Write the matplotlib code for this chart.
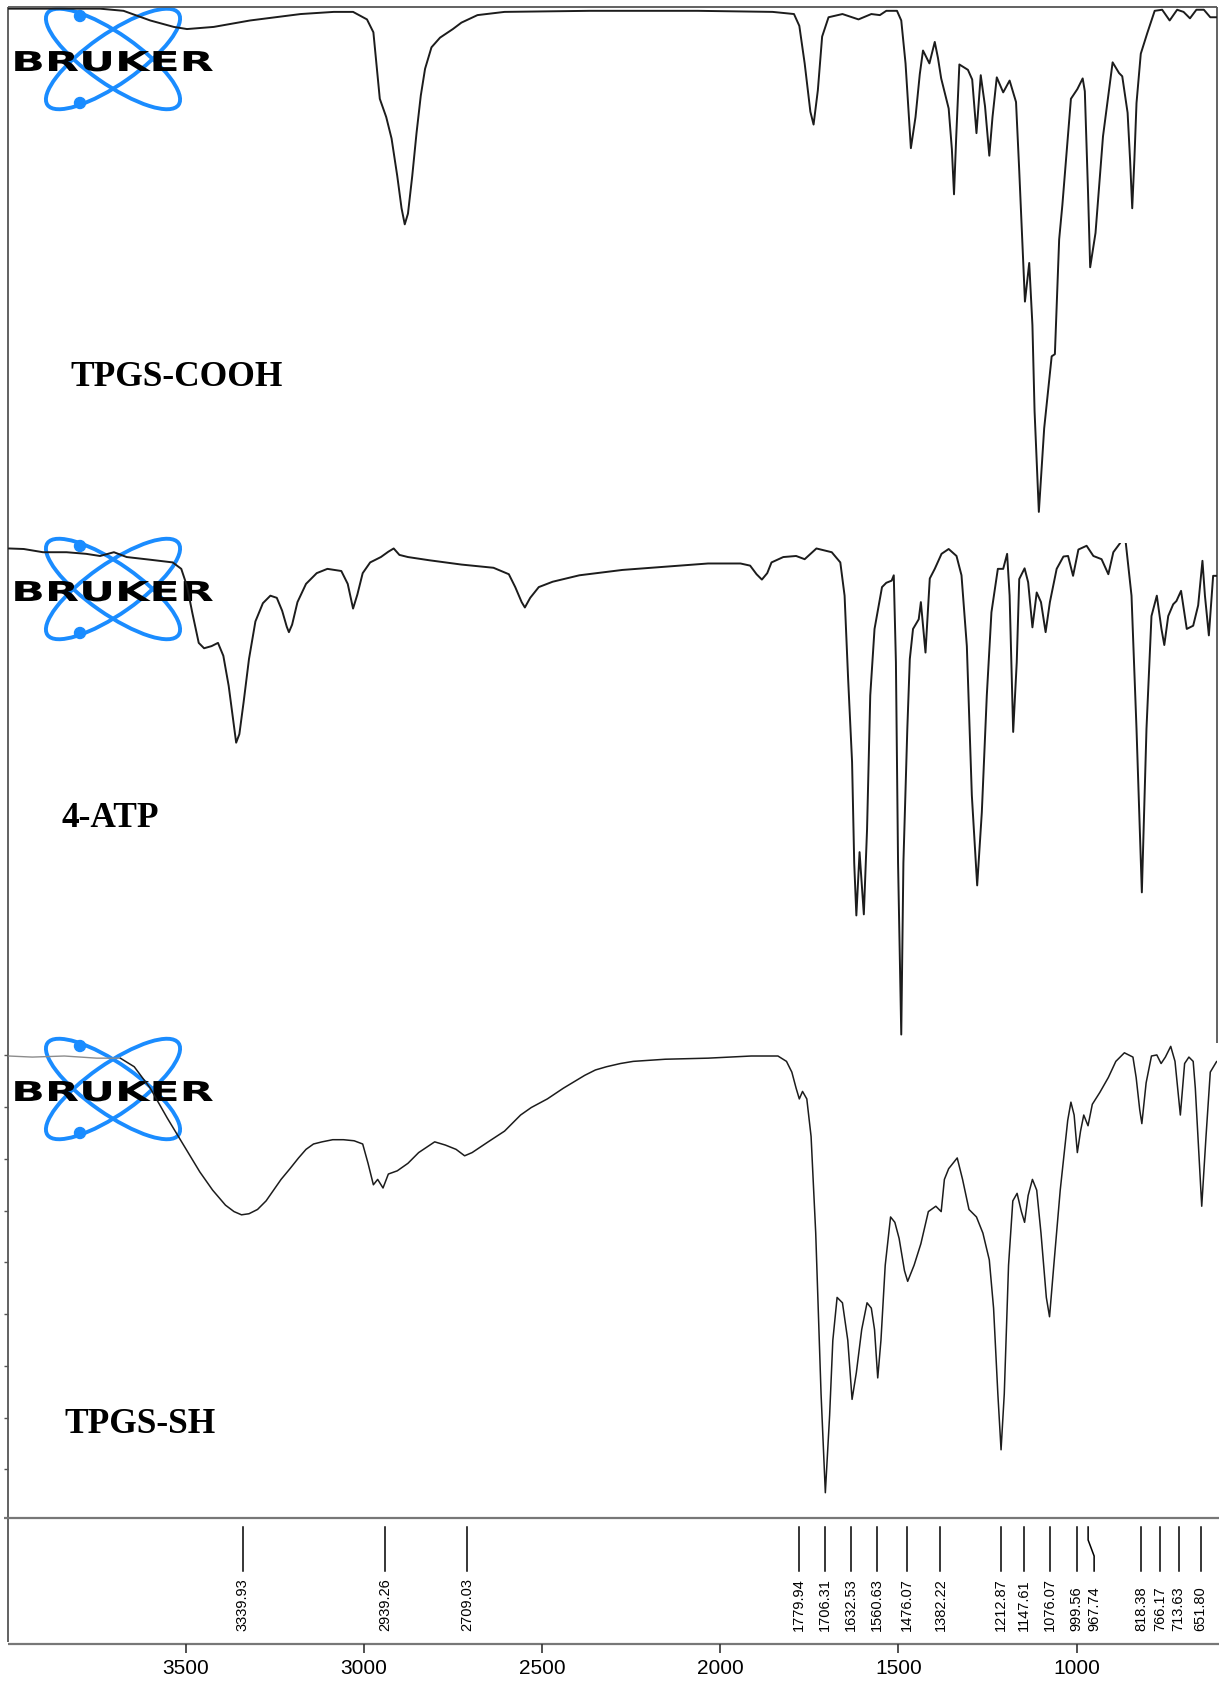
import numpy as np
import matplotlib
matplotlib.use("Agg")
import matplotlib.pyplot as plt
from matplotlib.patches import Ellipse, Circle
from matplotlib.patheffects import AbstractPathEffect
from matplotlib.transforms import Affine2D

# ---------------- data ----------------
sample_names = ["TPGS-COOH", "4-ATP", "TPGS-SH"]

cooh_wn = [3996, 3840, 3740, 3674, 3599, 3533, 3496, 3421, 3319, 3177, 3084, 3030, 2991, 2973,
           2955, 2937, 2922, 2906, 2894, 2885, 2876, 2864, 2852, 2840, 2828, 2810, 2786, 2768,
           2750, 2726, 2681, 2605, 2365, 2064, 1853, 1793, 1778, 1763, 1747, 1738, 1726, 1714,
           1696, 1657, 1612, 1576, 1552, 1534, 1504, 1492, 1480, 1465, 1452, 1440, 1431, 1413,
           1398, 1389, 1380, 1359, 1350, 1344, 1338, 1329, 1305, 1293, 1281, 1269, 1257, 1245,
           1236, 1224, 1206, 1188, 1170, 1161, 1145, 1133, 1124, 1118, 1106, 1091, 1070, 1061,
           1049, 1040, 1016, 998, 983, 977, 968, 962, 947, 926, 899, 881, 872, 857, 850, 844,
           838, 832, 820, 802, 781, 760, 739, 718, 700, 682, 664, 643, 625, 607]
cooh_t = [99.8, 99.8, 99.8, 99.4, 97.6, 96.4, 96.0, 96.4, 97.6, 98.8, 99.2, 99.2, 97.8, 95.4,
          83.0, 79.6, 75.6, 68.6, 62.6, 59.6, 61.6, 68.6, 76.6, 83.6, 88.6, 92.6, 94.4, 95.2,
          96.0, 97.2, 98.6, 99.2, 99.4, 99.4, 99.2, 98.8, 96.6, 89.6, 80.6, 78.2, 84.6, 94.6,
          98.2, 98.8, 97.8, 98.8, 98.6, 99.4, 99.4, 97.6, 89.6, 73.8, 79.6, 87.6, 92.0, 89.6,
          93.6, 90.6, 86.8, 81.2, 73.6, 65.2, 75.6, 89.4, 88.4, 86.6, 76.6, 87.4, 81.6, 72.4,
          79.6, 87.0, 84.2, 86.4, 82.4, 69.6, 45.2, 52.4, 40.8, 24.8, 6.0, 21.6, 35.0, 35.4,
          56.8, 63.2, 83.0, 84.8, 86.8, 84.4, 65.6, 51.6, 58.0, 76.0, 89.8, 87.8, 87.2, 80.4,
          71.6, 62.6, 71.6, 82.2, 91.4, 95.2, 99.4, 99.6, 97.6, 99.6, 99.2, 98.0, 99.6, 99.6,
          98.2, 98.2]

atp_wn = [3996, 3954, 3900, 3834, 3779, 3740, 3701, 3665, 3599, 3536, 3512, 3496, 3481, 3463,
          3448, 3427, 3409, 3394, 3379, 3367, 3358, 3349, 3337, 3322, 3304, 3283, 3262, 3244,
          3229, 3216, 3210, 3201, 3186, 3162, 3132, 3102, 3063, 3045, 3030, 3018, 3003, 2982,
          2952, 2931, 2916, 2900, 2876, 2816, 2726, 2636, 2593, 2575, 2557, 2548, 2533, 2509,
          2470, 2395, 2274, 2154, 2034, 1943, 1916, 1898, 1883, 1868, 1856, 1823, 1787, 1763,
          1730, 1687, 1663, 1651, 1641, 1630, 1624, 1618, 1609, 1597, 1588, 1579, 1567, 1546,
          1534, 1519, 1513, 1507, 1501, 1492, 1486, 1475, 1468, 1459, 1443, 1437, 1424, 1412,
          1398, 1379, 1359, 1337, 1323, 1308, 1294, 1279, 1266, 1252, 1239, 1221, 1206, 1195,
          1188, 1178, 1168, 1161, 1146, 1136, 1124, 1112, 1100, 1087, 1075, 1056, 1037, 1024,
          1010, 995, 972, 953, 930, 911, 897, 878, 870, 862, 846, 832, 817, 804, 790, 775, 762,
          754, 743, 729, 720, 707, 691, 673, 659, 647, 640, 629, 617, 605]
atp_t = [97.6, 97.5, 96.9, 96.9, 96.6, 96.2, 96.9, 96.0, 95.5, 95.0, 93.8, 90.6, 85.6, 80.0,
         79.0, 79.4, 80.0, 77.6, 72.0, 66.0, 61.4, 63.0, 69.0, 77.0, 84.0, 87.4, 88.8, 88.4,
         86.0, 83.0, 82.0, 83.4, 87.6, 91.0, 93.0, 93.8, 93.4, 91.0, 86.4, 89.0, 93.0, 95.0,
         96.0, 97.0, 97.6, 96.4, 96.0, 95.4, 94.6, 94.0, 92.8, 90.4, 87.6, 86.6, 88.4, 90.4,
         91.4, 92.6, 93.6, 94.2, 94.8, 94.8, 94.4, 92.8, 91.8, 93.0, 95.0, 96.0, 96.2, 95.6,
         97.6, 96.9, 95.0, 88.8, 73.2, 57.8, 39.0, 29.2, 41.0, 29.4, 45.2, 70.2, 82.6, 90.4,
         91.2, 91.6, 92.6, 76.4, 39.0, 7.0, 39.0, 64.0, 77.0, 82.6, 84.4, 87.6, 78.2, 92.0,
         93.8, 96.6, 97.5, 96.2, 92.6, 79.4, 51.6, 34.8, 48.4, 70.2, 85.7, 93.8, 93.8, 96.6,
         88.8, 63.4, 76.4, 91.9, 93.9, 91.3, 82.9, 89.4, 87.6, 82.0, 87.6, 93.8, 96.1, 96.2,
         92.5, 97.4, 98.1, 96.2, 95.6, 92.8, 96.9, 98.6, 100.0, 98.6, 88.8, 64.0, 33.5, 64.0,
         85.0, 88.8, 82.6, 79.6, 85.0, 87.2, 87.8, 89.7, 82.6, 83.2, 87.0, 95.3, 88.8, 81.4,
         92.5, 92.5]

sh_wn = [3996, 3930, 3840, 3749, 3683, 3644, 3599, 3551, 3502, 3460, 3424, 3388, 3364, 3343,
         3322, 3298, 3274, 3253, 3232, 3207, 3183, 3162, 3141, 3117, 3087, 3057, 3027, 3003,
         2988, 2973, 2961, 2946, 2931, 2906, 2876, 2846, 2801, 2771, 2741, 2717, 2696, 2651,
         2605, 2560, 2530, 2485, 2440, 2380, 2350, 2319, 2280, 2244, 2154, 2034, 1913, 1838,
         1814, 1799, 1787, 1778, 1769, 1757, 1745, 1732, 1717, 1705, 1693, 1684, 1672, 1657,
         1642, 1630, 1618, 1603, 1588, 1576, 1567, 1558, 1549, 1537, 1522, 1510, 1498, 1483,
         1474, 1456, 1437, 1416, 1395, 1380, 1371, 1359, 1347, 1335, 1320, 1302, 1281, 1263,
         1245, 1233, 1221, 1212, 1203, 1191, 1179, 1167, 1155, 1146, 1136, 1124, 1112, 1100,
         1085, 1076, 1064, 1046, 1025, 1016, 1007, 998, 989, 980, 968, 956, 935, 911, 890, 866,
         842, 833, 823, 817, 805, 790, 775, 763, 751, 736, 724, 715, 709, 697, 685, 673, 667,
         658, 649, 637, 625, 607]
sh_t = [86.0, 85.8, 86.0, 85.6, 85.6, 84.0, 80.0, 74.4, 69.0, 64.4, 61.0, 58.2, 57.0, 56.4,
        56.6, 57.4, 59.0, 61.0, 63.0, 65.0, 67.0, 68.6, 69.6, 70.0, 70.4, 70.4, 70.2, 69.6,
        66.0, 62.0, 63.0, 61.4, 64.0, 64.6, 66.0, 68.0, 70.0, 69.4, 68.6, 67.4, 68.0, 70.0,
        72.0, 75.0, 76.4, 78.0, 80.0, 82.4, 83.4, 84.0, 84.6, 85.0, 85.4, 85.6, 86.0, 86.0,
        85.0, 83.0, 80.0, 78.0, 79.4, 78.0, 71.0, 53.0, 23.0, 4.6, 19.0, 33.0, 41.0, 40.0,
        33.0, 22.0, 27.0, 35.0, 40.0, 39.0, 35.0, 26.0, 33.0, 47.0, 56.0, 55.0, 52.0, 46.0,
        44.0, 47.0, 51.0, 57.0, 58.0, 57.0, 63.0, 65.0, 66.0, 67.0, 63.0, 57.4, 56.0, 53.0,
        48.0, 39.0, 23.0, 12.6, 23.0, 47.0, 59.0, 60.4, 57.0, 55.0, 60.0, 63.0, 61.0, 53.0,
        41.0, 37.4, 47.0, 61.0, 74.0, 77.4, 75.0, 68.0, 72.0, 75.0, 73.0, 77.0, 79.2, 82.0,
        85.0, 86.6, 85.8, 82.0, 76.0, 73.4, 81.0, 86.0, 86.2, 84.6, 85.8, 87.8, 85.0, 79.0,
        75.0, 84.6, 85.8, 85.0, 80.0, 69.0, 58.0, 71.0, 83.0, 85.0]

peak_wn = [3339.93, 2939.26, 2709.03, 1779.94, 1706.31, 1632.53, 1560.63, 1476.07, 1382.22,
           1212.87, 1147.61, 1076.07, 999.56, 967.74, 818.38, 766.17, 713.63, 651.80]
peak_labels = ["3339.93", "2939.26", "2709.03", "1779.94", "1706.31", "1632.53", "1560.63",
               "1476.07", "1382.22", "1212.87", "1147.61", "1076.07", "999.56", "967.74",
               "818.38", "766.17", "713.63", "651.80"]
x_ticks = [3500, 3000, 2500, 2000, 1500, 1000]
x_tick_labels = ["3500", "3000", "2500", "2000", "1500", "1000"]
sh_yticks = [9.0, 18.6, 28.3, 37.9, 47.6, 57.2, 66.8, 76.5, 86.1]

# ---------------- layout / style ----------------
W, H, DPI = 1219, 1683, 100
XLIM = (3997, 607)
L, R = 8.4, 1216.7
LINE = "#1c1c1c"
FRAME = "#555555"
BLUE = "#1a8cff"
label_nudge_px = {"967.74": 6.0}
PX_PER_WN = (R - L) / (XLIM[0] - XLIM[1])
LSTYLE = dict(solid_joinstyle="round", solid_capstyle="round")

fig = plt.figure(figsize=(W / DPI, H / DPI), dpi=DPI)
fig.patch.set_facecolor("white")


class HStretch(AbstractPathEffect):
    """Stretch glyphs horizontally about a display x position."""
    def __init__(self, sx, cx):
        super().__init__()
        self.sx = sx
        self.cx = cx

    def draw_path(self, renderer, gc, tpath, affine, rgbFace=None):
        t = affine + Affine2D().translate(-self.cx, 0).scale(self.sx, 1.0).translate(self.cx, 0)
        renderer.draw_path(gc, tpath, t, rgbFace)


def px_axes(top, bottom, z=2):
    ax = fig.add_axes([L / W, 1 - bottom / H, (R - L) / W, (bottom - top) / H])
    ax.set_facecolor("none")
    ax.set_zorder(z)
    return ax


# overlay in pixel coordinates for frame, logos and names
ov = fig.add_axes([0, 0, 1, 1])
ov.set_xlim(0, W)
ov.set_ylim(H, 0)
ov.axis("off")
ov.set_zorder(1)

# frame lines
ov.plot([L, R], [8.4, 8.4], color=FRAME, lw=1.3, solid_capstyle="butt")
ov.plot([L, L], [8.4, 1643], color=FRAME, lw=1.3, solid_capstyle="butt")
ov.plot([R, R], [8.4, 1044], color=FRAME, lw=1.3, solid_capstyle="butt")
ov.plot([4, W], [1519, 1519], color="#777777", lw=1.6, solid_capstyle="butt")
ov.plot([L, W], [1645, 1645], color="#777777", lw=1.6, solid_capstyle="butt")

# Bruker logos
for cy in [60, 590, 1090]:
    cx = 113
    for ang in (35, -35):
        ov.add_patch(Ellipse((cx, cy), 160, 50, angle=ang, fill=False, ec=BLUE, lw=2.8))
    ov.add_patch(Circle((cx - 33, cy - 43), 5.5, color=BLUE))
    ov.add_patch(Circle((cx - 33, cy + 44), 5.5, color=BLUE))
    ov.text(112.5, cy + 12, "BRUKER", ha="center", va="baseline", fontsize=19.7,
            fontweight="bold", family="DejaVu Sans", color="black",
            path_effects=[HStretch(1.62, 112.5)])

# sample names
for name, (x0, yb) in zip(sample_names, [(70, 386), (61, 827), (64, 1433)]):
    ov.text(x0, yb, name, ha="left", va="baseline", fontsize=25.5, fontweight="bold",
            family="Liberation Serif", color="black")

# panel 1 : TPGS-COOH
ax1 = px_axes(8.6, 545.1)
ax1.plot(cooh_wn, cooh_t, color=LINE, lw=1.4, **LSTYLE)
ax1.set_xlim(XLIM)
ax1.set_ylim(0, 100)
ax1.axis("off")

# panel 2 : 4-ATP
ax2 = px_axes(544.1, 1073.1)
ax2.plot(atp_wn, atp_t, color=LINE, lw=1.4, **LSTYLE)
ax2.set_xlim(XLIM)
ax2.set_ylim(0, 98.6)
ax2.axis("off")

# panel 3 : TPGS-SH
ax3 = px_axes(981.9, 1518.4)
wn3 = np.array(sh_wn)
t3 = np.array(sh_t)
early = wn3 >= 3683
ax3.plot(wn3[early], t3[early], color="#8c8c8c", lw=1.0, **LSTYLE)
ax3.plot(wn3[wn3 <= 3683], t3[wn3 <= 3683], color=LINE, lw=1.1, **LSTYLE)
ax3.set_xlim(XLIM)
ax3.set_ylim(0, 100)
for s in ax3.spines.values():
    s.set_visible(False)
ax3.set_xticks([])
ax3.set_yticks(sh_yticks)
ax3.tick_params(axis="y", direction="out", length=3, width=1, color=FRAME, labelleft=False)

# bottom axis with peak list
axb = px_axes(1519, 1645)
axb.set_xlim(XLIM)
axb.set_ylim(1645, 1519)
for s in axb.spines.values():
    s.set_visible(False)
axb.set_yticks([])
axb.set_xticks(x_ticks)
axb.set_xticklabels(x_tick_labels)
axb.tick_params(axis="x", direction="out", length=6.5, width=1.2, color="#333333",
                labelsize=15, pad=3.5)
for lab in axb.get_xticklabels():
    lab.set_fontfamily("Liberation Sans")

for w, lab in zip(peak_wn, peak_labels):
    nudge = label_nudge_px.get(lab, 0.0)
    w2 = w - nudge / PX_PER_WN
    if nudge:
        axb.plot([w, w, w2, w2], [1528, 1541, 1557, 1572], color="black", lw=1.1)
    else:
        axb.plot([w, w], [1528, 1572], color="black", lw=1.1)
    axb.text(w2, 1631, lab, rotation=90, ha="center", va="bottom", fontsize=10.5,
             family="Liberation Sans", color="black")

fig.savefig("out.png", dpi=DPI, facecolor="white")
